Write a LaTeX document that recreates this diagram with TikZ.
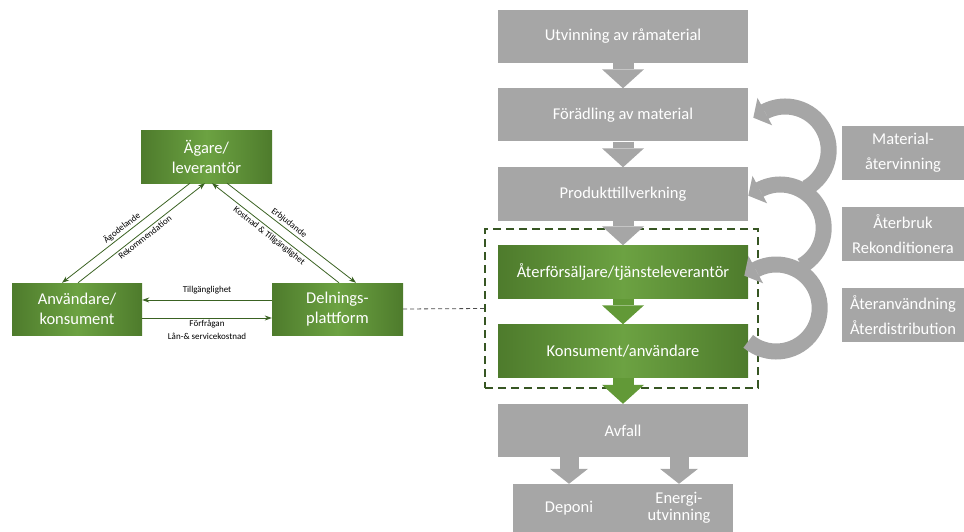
\documentclass[tikz,border=0pt]{standalone}
\usepackage{fontspec}
\setmainfont{Carlito}
\usetikzlibrary{arrows.meta}

\definecolor{boxgray}{RGB}{166,166,166}
\definecolor{greendark}{RGB}{78,123,44}
\definecolor{greenlight}{RGB}{108,162,66}
\definecolor{flowgreen}{RGB}{98,153,55}
\definecolor{linkgreen}{RGB}{58,98,34}
\definecolor{framegreen}{RGB}{55,86,35}

\tikzset{
  graybox/.style={fill=boxgray, text=white, inner sep=0pt, align=center,
    minimum width=250pt, minimum height=53pt, font=\fontsize{16.5}{20}\selectfont},
  greenbox/.style={graybox, left color=greendark, right color=greendark, middle color=greenlight},
  rolebox/.style={greenbox, minimum width=131pt, minimum height=52pt},
  sidebox/.style={graybox, minimum width=122pt, minimum height=54pt, font=\fontsize{16.5}{25}\selectfont},
  endbox/.style={graybox, minimum height=48pt, font=\fontsize{16.5}{17}\selectfont},
  link/.style={draw=linkgreen, line width=0.8pt, -{Stealth[length=7pt,width=5pt]}},
  lbl/.style={font=\fontsize{9}{12.5}\selectfont, text=black, inner sep=2pt},
  grayflow/.style={draw=boxgray, line width=21pt, -{Triangle[length=19pt,width=42pt,line width=0pt]}},
  greenflow/.style={grayflow, draw=flowgreen},
  wasteflow/.style={grayflow, line width=19pt, -{Triangle[length=15pt,width=38pt,line width=0pt]}},
  loopflow/.style={draw=boxgray, line width=16pt, -{Triangle[length=13pt,width=31pt,line width=0pt]}},
  zone/.style={draw=framegreen, line width=2pt, dash pattern=on 8pt off 5pt, minimum width=273pt, minimum height=159pt},
}

\begin{document}
\begin{tikzpicture}[x=1pt,y=-1pt]
\useasboundingbox (0,0) rectangle (964,532);

% sharing triangle
\node[rolebox] (owner) at (206.5,157) {Ägare/\\leverantör};
\node[rolebox, minimum width=130pt] (user) at (77,309) {Användare/\\konsument};
\node[rolebox] (platform) at (337.5,309) {Delnings-\\plattform};

\draw[link] ([xshift=-16.5pt]owner.south) -- node[lbl, sloped, above]{Ägodelande} ([xshift=-15pt]user.north);
\draw[link] ([xshift=1pt]user.north) -- node[lbl, sloped, below]{Rekommendation} ([xshift=-1.5pt]owner.south);
\draw[link] ([xshift=20.5pt]owner.south) -- node[lbl, sloped, above, pos=0.45]{Erbjudande} ([xshift=18.5pt]platform.north);
\draw[link] ([xshift=1.5pt]platform.north) -- node[lbl, sloped, below, pos=0.52]{Kostnad \& Tillgänglighet} ([xshift=5.5pt]owner.south);
\draw[link] ([yshift=9pt]platform.west) -- node[lbl, above=4pt]{Tillgänglighet} ([yshift=9pt]user.east);
\draw[link] ([yshift=-9pt]user.east) -- node[lbl, below, align=center]{Förfrågan\\Lån-\& servicekostnad} ([yshift=-9pt]platform.west);

% value chain
\node[zone] (ring) at (621.5,308.5) {};
\node[graybox] (mine) at (623,36.5) {Utvinning av råmaterial};
\node[graybox] (refine) at (623,115) {Förädling av material};
\node[graybox] (make) at (623,194) {Produkttillverkning};
\node[greenbox] (retail) at (623,272) {Återförsäljare/tjänsteleverantör};
\node[greenbox] (consumer) at (623,351) {Konsument/användare};
\node[graybox] (waste) at (623,430.5) {Avfall};
\node[endbox, minimum width=112pt] (landfill) at (569,508) {Deponi};
\node[endbox, minimum width=108pt] (energy) at (679,508) {Energi-\\utvinning};

\node[sidebox] (recycle) at (903,153) {Material-\\återvinning};
\node[sidebox] (reuse) at (903,234) {Återbruk\\Rekonditionera};
\node[sidebox] (redistr) at (903,315) {Återanvändning\\Återdistribution};

\draw[black!70, line width=0.8pt, dash pattern=on 4pt off 3pt] (platform.east) -- (ring.west);

\draw[grayflow] (mine.south) -- (refine.north);
\draw[grayflow] (refine.south) -- (make.north);
\draw[grayflow] (make.south) -- (retail.north);
\draw[greenflow] (retail.south) -- (consumer.north);
\draw[greenflow] (consumer.south) -- (waste.north);
\draw[wasteflow] (waste.south -| landfill) -- (landfill.north);
\draw[wasteflow] (waste.south -| energy) -- (energy.north);

% loops back
\coordinate (c1) at ([xshift=37pt,yshift=-35pt]refine.east);
\coordinate (c2) at ([xshift=32pt,yshift=-34pt]make.east);
\coordinate (c3) at ([xshift=28pt,yshift=-36pt]retail.east);
\draw[loopflow] (c1) ++(-60:43.5pt) arc[start angle=-60, end angle=118, radius=43.5pt] -- ++(208:13pt);
\draw[loopflow] (c2) ++(-60:43.5pt) arc[start angle=-60, end angle=118, radius=43.5pt] -- ++(208:13pt);
\draw[loopflow] (c3) ++(-130:43.5pt) arc[start angle=-130, end angle=118, radius=43.5pt] -- ++(208:13pt);
\end{tikzpicture}
\end{document}
